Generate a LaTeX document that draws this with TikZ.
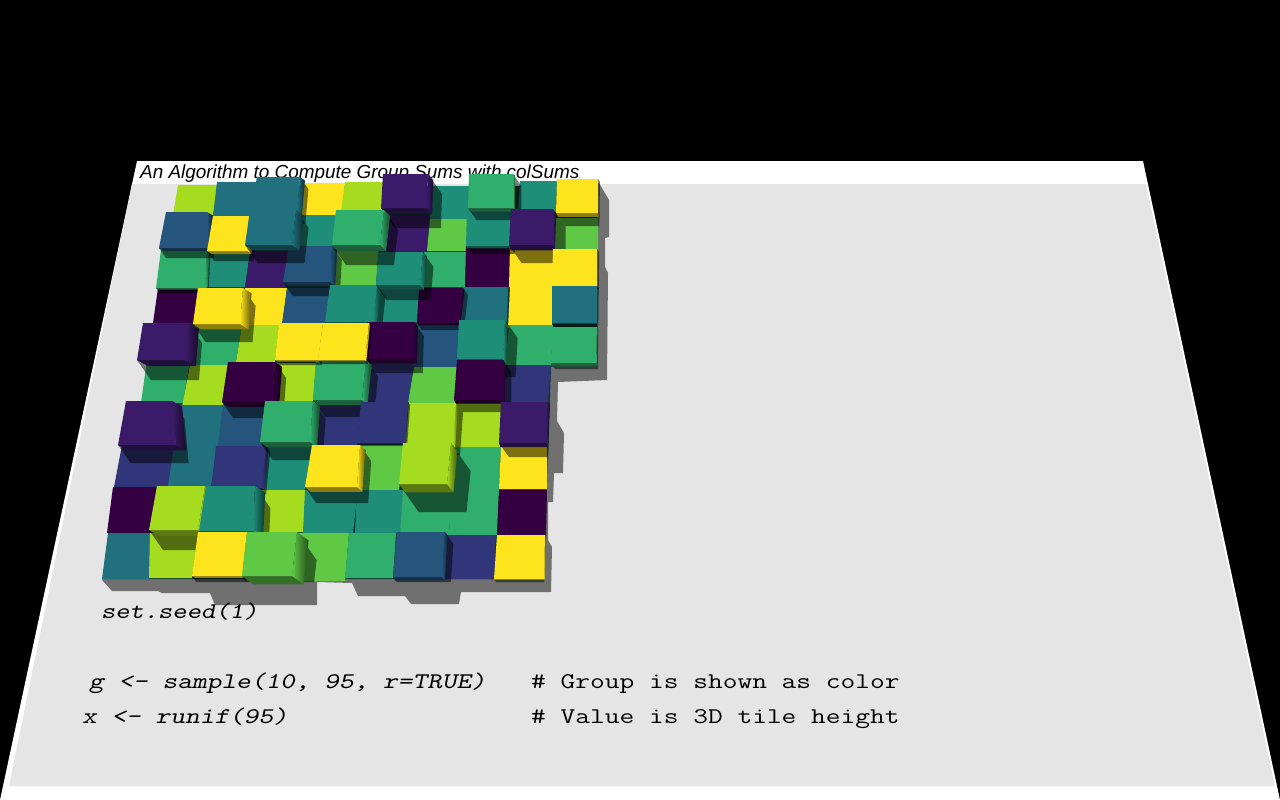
\documentclass[tikz,border=0pt]{standalone}
\usepackage{fontspec}
\newfontfamily\titlefont{Liberation Sans}

\definecolor{vone}{HTML}{340042}
\definecolor{vtwo}{HTML}{3B1B69}
\definecolor{vthree}{HTML}{31357A}
\definecolor{vfour}{HTML}{25557D}
\definecolor{vfive}{HTML}{20707E}
\definecolor{vsix}{HTML}{1E8E79}
\definecolor{vseven}{HTML}{30AE6B}
\definecolor{veight}{HTML}{5FC946}
\definecolor{vnine}{HTML}{A6DC20}
\definecolor{vten}{HTML}{FDE41C}
\definecolor{floorgray}{HTML}{E5E5E5}
\definecolor{floorshadow}{HTML}{707070}

\tikzset{
  headline/.style={anchor=base west, inner sep=0pt, font=\titlefont\itshape\fontsize{18.9}{22}\selectfont},
  codeline/.style={anchor=base west, inner sep=0pt, font=\ttfamily\fontsize{28}{30}\selectfont\addfontfeatures{FakeBold=0.25}},
}

% tile with no height: colour, top left, top right, top y, bottom left, bottom right, bottom y
\newcommand{\plate}[7]{
  \fill[#1] (#2,#4) -- (#3,#4) -- (#6,#7) -- (#5,#7) -- cycle;
}
% raised tile: the same, then its height
\newcommand{\tile}[8]{
  \pgfmathsetmacro\sdx{0.7*#8}
  \pgfmathsetmacro\frontd{0.3*#8}
  \pgfmathsetmacro\sidew{(640-#3)*#8*0.0012}
  \begin{scope}
    \clip (100,170) -- (600,170) -- (598,369) -- (553,369) -- (550,402) -- (544,582) -- (100,582) -- cycle;
    \fill[black, opacity=0.5] (#3,#4) -- ({#3+\sdx},{#4+#8}) -- ({#6+\sdx},{#7+#8}) -- ({#5+\sdx},{#7+#8}) -- (#5,#7) -- (#6,#7) -- cycle;
  \end{scope}
  \fill[#1!55!black] (#5,#7) -- (#6,#7) -- ({#6+\sidew},{#7+\frontd}) -- ({#5+\sidew},{#7+\frontd}) -- cycle;
  \shade[left color=#1, right color=#1!40!black] (#3,#4) -- (#6,#7) -- ({#6+\sidew},{#7+\frontd}) -- ({#3+\sidew},{#4+\frontd}) -- cycle;
  \plate{#1}{#2}{#3}{#4}{#5}{#6}{#7}
}

\begin{document}
\begin{tikzpicture}[x=1pt, y=-1pt]
\useasboundingbox (0,0) rectangle (1280,800);
\fill[black] (0,0) rectangle (1280,800);
\fill[white] (137,161) -- (1143,161) -- (1280,800) -- (0,800) -- cycle;
\fill[floorgray] (132,184) -- (1146,184) -- (1275,786) -- (9,786) -- cycle;

\node (title) [headline] at (140,178) {An Algorithm to Compute Group Sums with colSums};

% shadow on the floor
\fill[floorshadow] (102,580) -- (112,591) -- (158,591) -- (162,593) -- (210,593) -- (215,605) -- (317,605) -- (317,582)
  -- (352,583) -- (358,596) -- (405,596) -- (411,604) -- (459,604) -- (461,592) -- (551,592) -- (552,547) -- (548,540)
  -- (548,502) -- (553,502) -- (554,473) -- (563,473) -- (564,433) -- (557,421) -- (558,382) -- (607,380) -- (608,273)
  -- (605,267) -- (605,238) -- (609,237) -- (609,200) -- (599,183) -- (300,300) -- cycle;

% under the tiles
\fill[vsix!40!black] (182,186) -- (597,186) -- (597,363) -- (551,367) -- (544,579) -- (110,579) -- cycle;

% flat tiles, back row first
\plate{vnine}{178}{218}{185}{173}{213}{215}
\plate{vfive}{217}{258}{182}{213}{255}{216}
\plate{vten}{305}{345}{183}{300}{342}{218}
\plate{vnine}{345}{384}{182}{341}{382}{212}
\plate{vsix}{430}{470}{186}{430}{468}{222}
\plate{vsix}{520}{557}{181}{518}{556}{212}

\plate{vsix}{298}{338}{215}{294}{333}{247}
\plate{vtwo}{383}{430}{215}{382}{427}{251}
\plate{veight}{430}{468}{219}{427}{467}{251}
\plate{veight}{556}{598}{218}{555}{598}{249}

\plate{vsix}{208}{250}{252}{206}{245}{287}
\plate{vtwo}{250}{290}{252}{245}{285}{288}
\plate{veight}{333}{379}{245}{330}{376}{285}
\plate{vseven}{424}{467}{252}{421}{465}{287}
\plate{vone}{466}{510}{246}{465}{509}{287}
\plate{vten}{510}{553}{246}{509}{553}{287}

\plate{vone}{158}{200}{288}{153}{195}{323}
\plate{vten}{245}{287}{288}{240}{282}{326}
\plate{vfour}{287}{330}{288}{282}{325}{323}
\plate{vsix}{377}{420}{285}{372}{417}{322}
\plate{vfive}{463}{508}{287}{461}{507}{322}
\plate{vten}{510}{553}{287}{508}{552}{328}

\plate{vseven}{195}{242}{325}{193}{235}{367}
\plate{vnine}{242}{279}{325}{236}{275}{362}
\plate{vfour}{417}{460}{323}{413}{457}{367}
\plate{vseven}{509}{553}{325}{505}{551}{365}

\plate{vseven}{147}{190}{360}{141}{183}{403}
\plate{vnine}{190}{228}{365}{182}{223}{407}
\plate{vnine}{275}{316}{363}{272}{313}{402}
\plate{vthree}{367}{414}{360}{362}{408}{403}
\plate{veight}{414}{457}{367}{408}{455}{403}
\plate{vthree}{503}{551}{365}{500}{548}{402}

\plate{vfive}{177}{227}{405}{173}{222}{448}
\plate{vfour}{223}{265}{405}{218}{262}{446}
\plate{vthree}{315}{361}{402}{312}{357}{445}
\plate{vnine}{456}{502}{402}{452}{500}{447}

\plate{vthree}{122}{176}{445}{114}{168}{487}
\plate{vfive}{174}{218}{447}{168}{211}{486}
\plate{vsix}{266}{312}{447}{262}{305}{490}
\plate{veight}{360}{405}{445}{357}{399}{490}
\plate{vseven}{452}{501}{447}{449}{499}{490}
\plate{vten}{501}{547}{447}{499}{547}{489}

\plate{vone}{113}{157}{487}{107}{150}{533}
\plate{vnine}{260}{308}{490}{255}{303}{532}
\plate{vsix}{305}{358}{490}{303}{353}{533}
\plate{vsix}{357}{403}{490}{355}{402}{533}
\plate{vseven}{403}{452}{490}{400}{449}{535}
\plate{vseven}{451}{499}{490}{449}{497}{535}
\plate{vone}{499}{547}{490}{497}{546}{535}

\plate{vfive}{108}{155}{533}{102}{149}{579}
\plate{vnine}{150}{198}{533}{149}{192}{578}
\plate{veight}{297}{349}{533}{292}{345}{581}
\plate{vseven}{349}{396}{533}{345}{393}{578}
\plate{vthree}{445}{496}{535}{442}{494}{579}

% raised tiles, the ones that stand on a shadow after the one that casts it
\tile{vten}{497}{545}{535}{494}{544}{579}{4}
\tile{vseven}{161}{207}{250}{156}{205}{288}{5}
\tile{vthree}{216}{266}{446}{211}{262}{488}{6}
\tile{vone}{419}{463}{288}{417}{459}{323}{7}
\tile{vsix}{467}{511}{208}{466}{509}{246}{8}
\tile{vfour}{166}{207}{212}{159}{207}{248}{10}
\tile{vten}{213}{249}{216}{207}{247}{251}{10}
\tile{vnine}{408}{456}{403}{405}{453}{445}{10}
\tile{vfive}{257}{300}{177}{250}{297}{212}{12}
\tile{vseven}{469}{513}{174}{468}{513}{208}{12}
\tile{vfour}{397}{445}{532}{393}{442}{577}{12}
\tile{vten}{557}{598}{179}{556}{598}{213}{13}
\tile{vfour}{289}{332}{246}{283}{330}{282}{14}
\tile{vsix}{330}{377}{285}{325}{373}{322}{12}
\tile{vone}{367}{414}{322}{365}{413}{359}{14}
\tile{vsix}{378}{423}{252}{376}{420}{285}{15}
\tile{vone}{228}{275}{362}{222}{272}{402}{16}
\tile{vseven}{316}{366}{360}{313}{362}{400}{17}
\tile{vthree}{361}{408}{402}{357}{405}{443}{3}
\tile{vfive}{250}{296}{210}{245}{292}{245}{18}
\tile{vtwo}{511}{553}{209}{509}{553}{245}{18}
\tile{vten}{198}{243}{288}{193}{240}{324}{18}
\tile{vsix}{459}{505}{320}{457}{503}{359}{18}
\tile{vone}{457}{503}{360}{454}{503}{400}{12}
\tile{vtwo}{501}{548}{402}{499}{546}{443}{14}
\tile{vtwo}{126}{172}{401}{118}{176}{445}{18}
\tile{vseven}{265}{313}{401}{260}{310}{442}{18}
\tile{vten}{312}{360}{445}{305}{357}{487}{16}
\tile{vten}{279}{323}{323}{275}{318}{360}{5}
\tile{vten}{323}{369}{323}{318}{365}{360}{4}
\tile{vten}{553}{597}{249}{552}{597}{286}{3}
\tile{vfive}{552}{597}{286}{552}{597}{323}{4}
\tile{vseven}{552}{597}{327}{551}{596}{363}{12}
\tile{vtwo}{383}{428}{174}{381}{427}{208}{20}
\tile{vseven}{336}{384}{210}{332}{380}{245}{20}
\tile{vtwo}{143}{188}{323}{137}{185}{360}{20}
\tile{vnine}{157}{205}{486}{149}{198}{530}{20}
\tile{vsix}{206}{255}{486}{199}{253}{531}{22}
\tile{vten}{198}{247}{532}{192}{242}{576}{6}
\tile{vnine}{403}{451}{443}{399}{447}{484}{28}
\tile{veight}{247}{297}{532}{242}{292}{576}{28}

\node (seed) [codeline] at (101,618) {\scalebox{0.97}[0.8]{\slshape set.seed(1)}};
\node (sample) [codeline] at (89,688) {\scalebox{1}[0.8]{\slshape g <- sample(10, 95, r=TRUE)}};
\node (runif) [codeline] at (82,723) {\scalebox{1}[0.8]{\slshape x <- runif(95)}};
\node (groupnote) [codeline] at (531,688) {\scalebox{1.022}[0.8]{\# Group is shown as color}};
\node (valuenote) [codeline] at (531,723) {\scalebox{1.022}[0.8]{\# Value is 3D tile height}};
\end{tikzpicture}
\end{document}
